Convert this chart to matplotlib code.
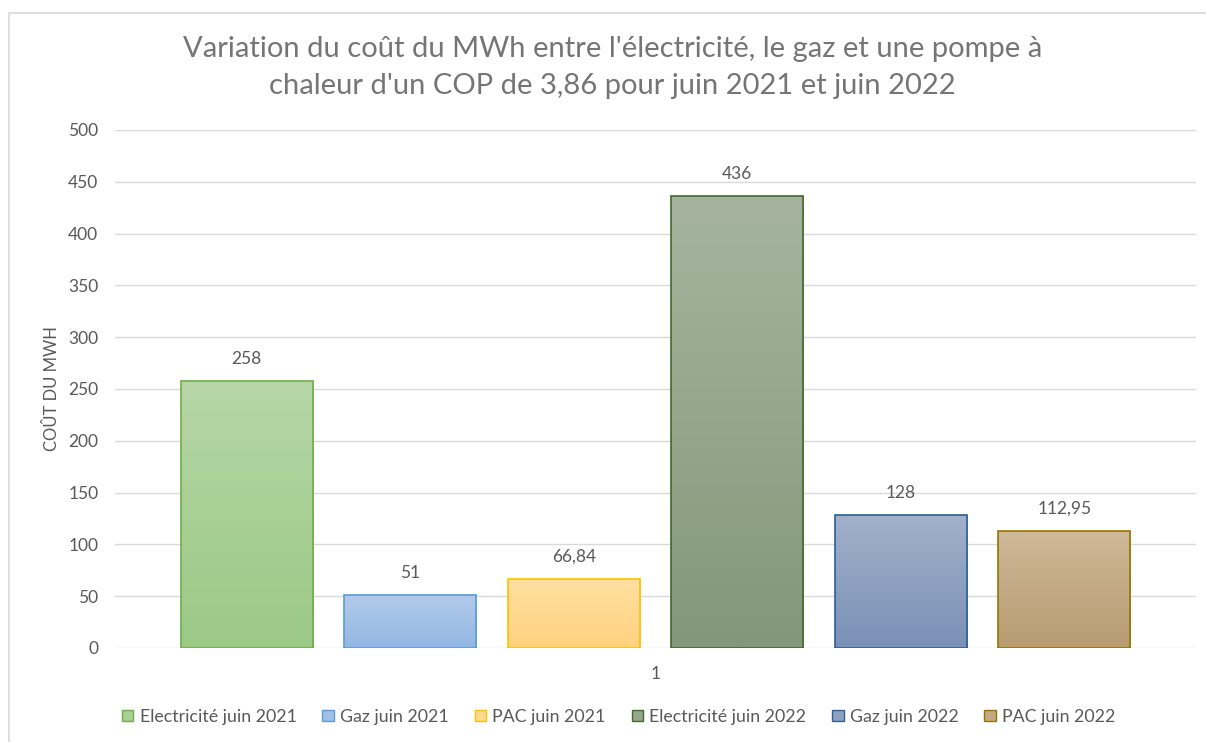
import numpy as np
import matplotlib.pyplot as plt
from matplotlib.colors import LinearSegmentedColormap, to_rgb
from matplotlib.patches import Patch, Rectangle

# data
series = ["Electricité juin 2021", "Gaz juin 2021", "PAC juin 2021",
          "Electricité juin 2022", "Gaz juin 2022", "PAC juin 2022"]
values = [258, 51, 66.84, 436, 128, 112.95]
labels = ["258", "51", "66,84", "436", "128", "112,95"]
category = ["1"]

# gradient colours (top, bottom) and edge colours
tops = ["#b6d6a7", "#b2cbea", "#ffe0a3", "#a6b49f", "#a2b1cb", "#cfb999"]
bottoms = ["#9bc986", "#93b7e3", "#ffd27e", "#829879", "#7a90b5", "#b89b71"]
edges = ["#70ad47", "#5b9bd5", "#ffc000", "#43682b", "#2e5f96", "#997300"]

plt.rcParams['font.family'] = ['Lato', 'DejaVu Sans']
grey = "#595959"

fig = plt.figure(figsize=(12.06, 7.42), dpi=100)
ax = fig.add_axes([0.0954, 0.1267, 0.8963, 0.6981])

x = np.arange(len(values))
w = 0.807
bars = ax.bar(x, values, width=w, color="none", edgecolor=edges, linewidth=1.2, zorder=3)

for i, b in enumerate(bars):
    cmap = LinearSegmentedColormap.from_list("g%d" % i, [bottoms[i], tops[i]])
    grad = np.linspace(0, 1, 256).reshape(-1, 1)
    im = ax.imshow(grad, cmap=cmap, origin="lower", aspect="auto",
                   extent=[b.get_x(), b.get_x() + b.get_width(), 0, b.get_height()],
                   zorder=2)
    clip = Rectangle((b.get_x(), 0), b.get_width(), b.get_height(), transform=ax.transData)
    im.set_clip_path(clip)
    ax.annotate(labels[i], (b.get_x() + b.get_width() / 2, b.get_height()),
                xytext=(0, 10), textcoords="offset points", ha="center", va="bottom",
                fontsize=12.5, color=grey)

ax.set_xlim(-0.804, 5.804)
ax.set_ylim(0, 500)
ax.set_yticks(np.arange(0, 501, 50))
ax.set_xticks([2.5])
ax.set_xticklabels(category)
ax.yaxis.grid(True, color="#d9d9d9", linewidth=1)
ax.set_axisbelow(True)
for s in ax.spines.values():
    s.set_visible(False)
ax.tick_params(length=0, labelsize=12.5, labelcolor=grey, pad=12)
ax.tick_params(axis="x", pad=13)
ax.set_ylabel("COÛT DU MWH", fontsize=12, color=grey, labelpad=6)

fig.suptitle("Variation du coût du MWh entre l'électricité, le gaz et une pompe à\n"
             "chaleur d'un COP de 3,86 pour juin 2021 et juin 2022",
             x=0.508, y=0.951, fontsize=21, color="#757575", linespacing=1.5)

handles = [Patch(facecolor=(np.array(to_rgb(tops[i])) + np.array(to_rgb(bottoms[i]))) / 2,
                 edgecolor=edges[i], linewidth=1) for i in range(len(series))]
fig.legend(handles, series, loc="center", bbox_to_anchor=(0.513, 0.034), ncol=6,
           frameon=False, fontsize=12.8, labelcolor=grey, handlelength=0.65,
           handleheight=0.65, handletextpad=0.35, columnspacing=1.45)

# chart border (Excel chart area)
fig.patches.append(Rectangle((9 / 1206, -0.01), 1.02, 1 - 12.5 / 742 + 0.01,
                             transform=fig.transFigure, fill=False,
                             edgecolor="#d9d9d9", linewidth=1.2))

fig.savefig("out.png", dpi=100)
